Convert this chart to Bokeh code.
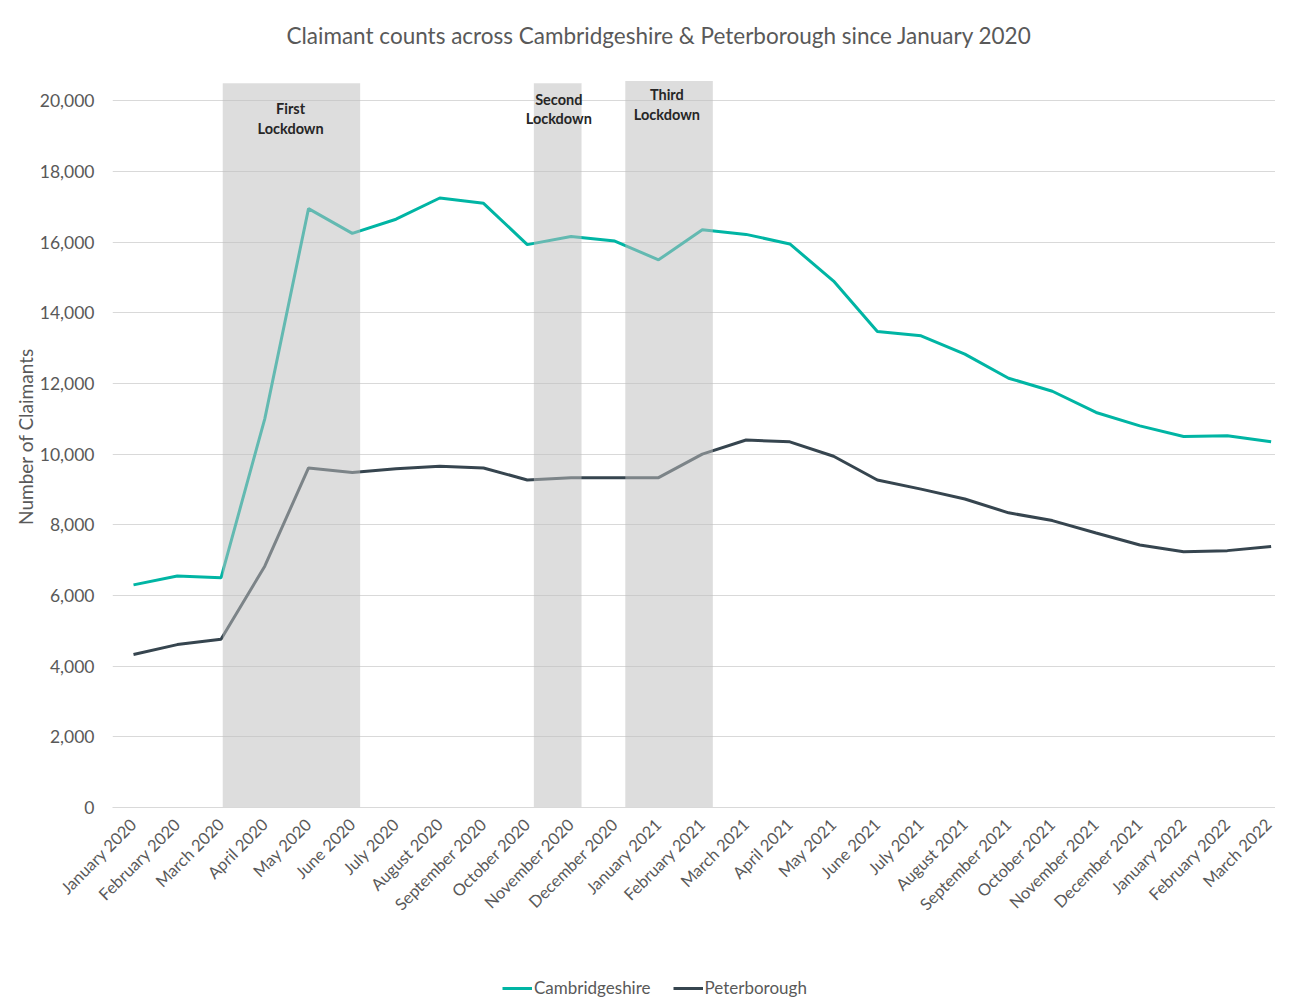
import math
from bokeh.plotting import figure
from bokeh.layouts import column
from bokeh.models import (FixedTicker, NumeralTickFormatter, Legend, LegendItem, Range1d)
from bokeh.core.properties import value
from bokeh.embed import file_html
from bokeh.resources import INLINE

months = ["January 2020", "February 2020", "March 2020", "April 2020", "May 2020", "June 2020",
          "July 2020", "August 2020", "September 2020", "October 2020", "November 2020",
          "December 2020", "January 2021", "February 2021", "March 2021", "April 2021",
          "May 2021", "June 2021", "July 2021", "August 2021", "September 2021",
          "October 2021", "November 2021", "December 2021", "January 2022", "February 2022",
          "March 2022"]

cambridgeshire = [6300, 6550, 6500, 11000, 16950, 16250, 16650, 17250, 17100, 15930, 16160,
                  16030, 15500, 16350, 16220, 15950, 14900, 13470, 13350, 12830, 12150,
                  11780, 11180, 10800, 10500, 10520, 10350]

peterborough = [4330, 4610, 4760, 6830, 9610, 9480, 9590, 9660, 9610, 9270, 9330,
                9335, 9335, 10000, 10400, 10350, 9940, 9270, 9010, 8730, 8340,
                8120, 7770, 7430, 7240, 7270, 7390]

series_names = ["Cambridgeshire", "Peterborough"]

# lockdown periods (in month-index units)
lockdown_names = ["First\nLockdown", "Second\nLockdown", "Third\nLockdown"]
lockdown_start = [2.04, 9.15, 11.24]
lockdown_end = [5.18, 10.24, 13.24]
lockdown_top = [20500, 20500, 20560]
lockdown_label_x = [3.59, 9.72, 12.19]
lockdown_label_y = [19500, 19770, 19890]

y_ticks = list(range(0, 20001, 2000))

FONT = "Lato"
TXT = "#595959"
TEAL = "#00B5A4"
DARK = "#36454F"

x = list(range(len(months)))

p = figure(frame_width=1163, frame_height=742, output_backend="svg", toolbar_location=None,
           x_range=Range1d(-0.48, 26.1), y_range=Range1d(0, 21000),
           title="Claimant counts across Cambridgeshire & Peterborough since January 2020",
           min_border_left=112, min_border_right=0, min_border_top=65, min_border_bottom=150)
p.outline_line_color = None
p.background_fill_color = "white"
p.border_fill_color = "white"
p.title.align = "left"
p.title.offset = 174
p.title.text_font = FONT
p.title.text_font_size = "22.5px"
p.title.text_color = TXT
p.title.text_font_style = "normal"
p.title.standoff = 34

p.line(x, cambridgeshire, line_color=TEAL, line_width=3)
p.line(x, peterborough, line_color=DARK, line_width=3)

p.quad(left=lockdown_start, right=lockdown_end, bottom=[0] * 3, top=lockdown_top,
       fill_color="#BEBEBE", fill_alpha=0.52, line_color=None)

p.text(x=lockdown_label_x, y=lockdown_label_y, text=lockdown_names,
       text_font=value(FONT), text_font_style="bold", text_font_size="14.5px",
       text_color="#262626", text_align="center", text_baseline="middle",
       text_line_height=1.15)

# axes
p.xaxis.ticker = FixedTicker(ticks=x)
p.xaxis.major_label_overrides = {i: m for i, m in enumerate(months)}
p.xaxis.major_label_orientation = math.pi / 4
p.xaxis.major_label_text_font = FONT
p.xaxis.major_label_text_font_size = "16.5px"
p.xaxis.major_label_text_color = TXT
p.xaxis.major_tick_line_color = None
p.xaxis.minor_tick_line_color = None
p.xaxis.axis_line_color = "#D9D9D9"
p.xaxis.major_label_standoff = 8

p.yaxis.ticker = FixedTicker(ticks=y_ticks)
p.yaxis.formatter = NumeralTickFormatter(format="0,0")
p.yaxis.major_label_text_font = FONT
p.yaxis.major_label_text_font_size = "17.5px"
p.yaxis.major_label_text_color = TXT
p.yaxis.major_tick_line_color = None
p.yaxis.minor_tick_line_color = None
p.yaxis.axis_line_color = None
p.yaxis.major_label_standoff = 12
p.yaxis.axis_label = "Number of Claimants"
p.yaxis.axis_label_text_font = FONT
p.yaxis.axis_label_text_font_size = "19px"
p.yaxis.axis_label_text_font_style = "normal"
p.yaxis.axis_label_text_color = TXT
p.yaxis.axis_label_standoff = 0

p.xgrid.grid_line_color = None
p.ygrid.grid_line_color = "#D9D9D9"
p.ygrid.grid_line_width = 1

# legend strip below the chart (series lines lie outside its y-range, only legend shows)
lg = figure(width=1275, height=50, output_backend="svg", toolbar_location=None,
            x_axis_type=None, y_axis_type=None, x_range=Range1d(0, 1), y_range=Range1d(0, 1),
            min_border=0)
lg.outline_line_color = None
lg.grid.visible = False
r1 = lg.line(x, cambridgeshire, line_color=TEAL, line_width=3)
r2 = lg.line(x, peterborough, line_color=DARK, line_width=3)
legend = Legend(items=[LegendItem(label=series_names[0], renderers=[r1]),
                       LegendItem(label=series_names[1], renderers=[r2])],
                location=(390, 9), orientation="horizontal",
                label_text_font=FONT, label_text_font_size="17px", label_text_color=TXT,
                glyph_width=30, glyph_height=18, label_standoff=2, spacing=22,
                padding=0, margin=0, border_line_color=None, background_fill_alpha=0)
lg.add_layout(legend, "center")

layout = column(p, lg, spacing=0)
open("out.html", "w").write(file_html(layout, INLINE))
